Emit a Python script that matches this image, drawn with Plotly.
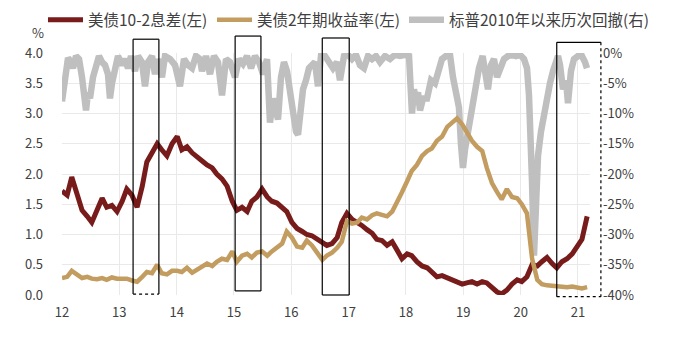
import plotly.graph_objects as go

# ---------------- data ----------------
rate_dates = [
    2012.00, 2012.09, 2012.17, 2012.26, 2012.35, 2012.44, 2012.52, 2012.61, 2012.70, 2012.78,
    2012.87, 2012.96, 2013.05, 2013.13, 2013.22, 2013.31, 2013.40, 2013.48, 2013.57, 2013.66,
    2013.74, 2013.83, 2013.92, 2014.01, 2014.09, 2014.18, 2014.27, 2014.35, 2014.44, 2014.53,
    2014.62, 2014.70, 2014.79, 2014.88, 2014.97, 2015.05, 2015.14, 2015.23, 2015.31, 2015.40,
    2015.49, 2015.58, 2015.66, 2015.75, 2015.84, 2015.92, 2016.01, 2016.10, 2016.19, 2016.27,
    2016.36, 2016.45, 2016.54, 2016.62, 2016.71, 2016.80, 2016.88, 2016.97, 2017.06, 2017.15,
    2017.23, 2017.32, 2017.41, 2017.49, 2017.58, 2017.67, 2017.76, 2017.84, 2017.93, 2018.02,
    2018.10, 2018.19, 2018.28, 2018.37, 2018.45, 2018.54, 2018.63, 2018.72, 2018.80, 2018.89,
    2018.98, 2019.06, 2019.15, 2019.24, 2019.33, 2019.41, 2019.50, 2019.59, 2019.67, 2019.76,
    2019.85, 2019.94, 2020.02, 2020.11, 2020.20, 2020.29, 2020.37, 2020.46, 2020.55, 2020.63,
    2020.72, 2020.81, 2020.90, 2020.98, 2021.07, 2021.16,
]

spread_10_2 = [
    1.72, 1.65, 1.95, 1.70, 1.40, 1.30, 1.20, 1.40, 1.60, 1.45,
    1.48, 1.38, 1.55, 1.75, 1.65, 1.45, 1.80, 2.20, 2.35, 2.50,
    2.40, 2.30, 2.50, 2.62, 2.40, 2.45, 2.35, 2.30, 2.22, 2.15,
    2.10, 2.00, 1.92, 1.80, 1.55, 1.40, 1.45, 1.38, 1.55, 1.62,
    1.75, 1.62, 1.55, 1.52, 1.45, 1.38, 1.20, 1.10, 1.05, 1.00,
    0.98, 0.92, 0.88, 0.82, 0.85, 0.95, 1.20, 1.35, 1.25, 1.20,
    1.15, 1.08, 1.02, 0.92, 0.90, 0.82, 0.88, 0.75, 0.60, 0.68,
    0.65, 0.55, 0.48, 0.45, 0.38, 0.30, 0.32, 0.28, 0.25, 0.22,
    0.18, 0.20, 0.22, 0.18, 0.22, 0.20, 0.12, 0.05, 0.02, 0.08,
    0.18, 0.25, 0.22, 0.30, 0.50, 0.48, 0.55, 0.62, 0.52, 0.45,
    0.55, 0.60, 0.68, 0.78, 0.92, 1.30,
]

yield_2y = [
    0.28, 0.30, 0.40, 0.33, 0.28, 0.30, 0.27, 0.26, 0.28, 0.25,
    0.29, 0.27, 0.26, 0.27, 0.24, 0.22, 0.30, 0.38, 0.36, 0.50,
    0.36, 0.34, 0.40, 0.40, 0.38, 0.45, 0.37, 0.42, 0.48, 0.52,
    0.48, 0.55, 0.60, 0.58, 0.72, 0.55, 0.65, 0.68, 0.62, 0.70,
    0.72, 0.65, 0.72, 0.78, 0.85, 1.05, 0.95, 0.80, 0.78, 0.90,
    0.82, 0.70, 0.58, 0.65, 0.70, 0.78, 0.88, 1.22, 1.18, 1.20,
    1.28, 1.25, 1.32, 1.35, 1.32, 1.30, 1.38, 1.55, 1.70, 1.88,
    2.05, 2.15, 2.30, 2.38, 2.42, 2.55, 2.62, 2.78, 2.85, 2.92,
    2.82, 2.70, 2.55, 2.45, 2.38, 2.10, 1.85, 1.70, 1.58, 1.75,
    1.62, 1.60, 1.50, 1.35, 0.60, 0.25, 0.18, 0.16, 0.15, 0.15,
    0.14, 0.13, 0.14, 0.12, 0.11, 0.13,
]

dd_dates = [
    2012.000, 2012.052, 2012.105, 2012.157, 2012.192, 2012.244, 2012.297, 2012.349, 2012.384, 2012.419,
    2012.454, 2012.488, 2012.541, 2012.593, 2012.645, 2012.698, 2012.750, 2012.802, 2012.837, 2012.872,
    2012.924, 2012.977, 2013.047, 2013.099, 2013.151, 2013.204, 2013.273, 2013.326, 2013.395, 2013.448,
    2013.500, 2013.570, 2013.622, 2013.674, 2013.744, 2013.797, 2013.884, 2013.971, 2014.058, 2014.128,
    2014.198, 2014.268, 2014.337, 2014.407, 2014.442, 2014.512, 2014.582, 2014.651, 2014.721, 2014.791,
    2014.861, 2014.930, 2015.018, 2015.087, 2015.157, 2015.227, 2015.297, 2015.366, 2015.436, 2015.506,
    2015.576, 2015.628, 2015.680, 2015.733, 2015.768, 2015.820, 2015.872, 2015.925, 2015.977, 2016.029,
    2016.082, 2016.117, 2016.152, 2016.204, 2016.256, 2016.308, 2016.361, 2016.413, 2016.465, 2016.518,
    2016.587, 2016.657, 2016.727, 2016.797, 2016.849, 2016.919, 2016.989, 2017.058, 2017.128, 2017.198,
    2017.268, 2017.338, 2017.407, 2017.477, 2017.547, 2017.634, 2017.721, 2017.808, 2017.896, 2017.983,
    2018.053, 2018.105, 2018.140, 2018.175, 2018.210, 2018.245, 2018.297, 2018.367, 2018.437, 2018.506,
    2018.576, 2018.628, 2018.698, 2018.768, 2018.820, 2018.872, 2018.924, 2018.959, 2018.994, 2019.029,
    2019.064, 2019.116, 2019.168, 2019.221, 2019.273, 2019.337, 2019.378, 2019.430, 2019.483, 2019.535,
    2019.588, 2019.640, 2019.710, 2019.780, 2019.849, 2019.919, 2019.989, 2020.059, 2020.111, 2020.146,
    2020.181, 2020.198, 2020.233, 2020.268, 2020.303, 2020.355, 2020.407, 2020.460, 2020.512, 2020.564,
    2020.617, 2020.652, 2020.687, 2020.739, 2020.791, 2020.826, 2020.878, 2020.930, 2021.000, 2021.070,
    2021.122, 2021.157,
]

sp500_drawdown = [
    -8.0, -5.0, -0.8, -1.5, -2.5, -0.5, -1.0, -4.0, -8.0, -9.5,
    -6.5, -7.5, -4.0, -2.0, -0.5, -1.5, -2.0, -3.5, -7.5, -5.0,
    -2.5, -0.5, -2.0, -1.0, -2.5, -0.5, -3.0, -0.5, -1.5, -5.5,
    -1.5, -0.5, -3.5, -1.0, -4.0, -0.5, -1.0, -2.0, -5.5, -1.0,
    -2.0, -2.5, -0.5, -1.0, -3.0, -0.5, -3.5, -0.5, -1.5, -7.0,
    -1.0, -1.5, -4.0, -1.0, -1.8, -0.5, -2.5, -0.5, -1.5, -3.5,
    -1.0, -11.5, -7.5, -10.0, -11.0, -4.0, -1.5, -3.0, -7.0, -9.0,
    -13.0, -13.5, -10.0, -6.0, -4.5, -2.5, -2.0, -1.5, -5.5, -0.5,
    -0.5, -1.5, -2.5, -1.5, -4.5, -0.5, -0.3, -1.0, -0.3, -2.0,
    -2.5, -0.5, -1.0, -0.5, -1.5, -0.5, -1.0, -0.3, -0.5, -0.3,
    -0.5, -10.0, -6.0, -8.0, -6.5, -9.5, -7.5, -7.5, -4.5, -5.0,
    -2.0, -1.0, -0.5, -0.3, -4.0, -6.0, -9.0, -15.0, -19.0, -16.0,
    -14.0, -10.0, -7.5, -4.5, -2.5, -0.5, -3.0, -6.0, -2.0, -1.0,
    -4.0, -2.5, -1.0, -0.5, -0.3, -0.5, -0.3, -1.0, -2.5, -7.0,
    -15.0, -21.0, -33.5, -26.0, -17.0, -13.0, -10.0, -7.0, -5.0, -3.0,
    -1.0, -0.5, -2.0, -6.0, -4.5, -8.3, -3.0, -1.0, -0.5, -0.5,
    -1.5, -2.5,
]

x_tick_years = [2012, 2013, 2014, 2015, 2016, 2017, 2018, 2019, 2020, 2021]
x_tick_labels = ["12", "13", "14", "15", "16", "17", "18", "19", "20", "21"]
left_ticks = [0.0, 0.5, 1.0, 1.5, 2.0, 2.5, 3.0, 3.5, 4.0]
left_tick_labels = ["0.0", "0.5", "1.0", "1.5", "2.0", "2.5", "3.0", "3.5", "4.0"]
right_ticks = [0, -5, -10, -15, -20, -25, -30, -35, -40]
right_tick_labels = ["0%", "-5%", "-10%", "-15%", "-20%", "-25%", "-30%", "-35%", "-40%"]

names = ["美债10-2息差(左)", "美债2年期收益率(左)", "标普2010年以来历次回撤(右)"]

# highlighted periods (start year, end year) drawn as black boxes
box_periods = [(2013.24, 2013.69), (2015.02, 2015.47), (2016.54, 2017.01), (2020.63, 2021.40)]

X_RANGE = [2012.0, 2021.21]

# ---------------- figure ----------------
FONT = "Noto Sans CJK SC, Microsoft YaHei, sans-serif"
TXT = "#404040"
GRID = "#e9e9e9"

fig = go.Figure()

# drawdown on primary axis so it renders underneath the rate lines
fig.add_trace(go.Scatter(
    x=dd_dates, y=sp500_drawdown, mode="lines", name=names[2],
    line=dict(color="#BFBFBF", width=6.5), yaxis="y", legend="legend3",
))
fig.add_trace(go.Scatter(
    x=rate_dates, y=spread_10_2, mode="lines", name=names[0],
    line=dict(color="#771B1B", width=5), yaxis="y2", legend="legend",
))
fig.add_trace(go.Scatter(
    x=rate_dates, y=yield_2y, mode="lines", name=names[1],
    line=dict(color="#C39C60", width=4.5), yaxis="y2", legend="legend2",
))

def to_paper(yr):
    return (yr - X_RANGE[0]) / (X_RANGE[1] - X_RANGE[0])

box_v = [(1.057, 0.004), (1.070, 0.017), (1.062, 0.0), (1.044, -0.007)]
box_dash = [
    ("solid", "solid", "dot", "solid"),
    ("solid", "solid", "solid", "solid"),
    ("solid", "solid", "solid", "solid"),
    ("solid", "dot", "dot", "solid"),
]
shapes = []
for (a, b), (top, bot), (dt, dr, dbm, dl) in zip(box_periods, box_v, box_dash):
    x0, x1 = to_paper(a), to_paper(b)
    for (xa, ya, xb, yb, d) in [
        (x0, top, x1, top, dt),
        (x1, top, x1, bot, dr),
        (x0, bot, x1, bot, dbm),
        (x0, top, x0, bot, dl),
    ]:
        shapes.append(dict(type="line", xref="paper", yref="paper",
                           x0=xa, y0=ya, x1=xb, y1=yb,
                           line=dict(color="black", width=1.2, dash=d)))

def legend_at(xp):
    return dict(orientation="h", x=xp, xanchor="left", y=1.136, yanchor="middle",
                font=dict(size=15.5, color=TXT, family=FONT), bgcolor="rgba(0,0,0,0)",
                itemwidth=35)

fig.update_layout(
    width=678, height=341,
    margin=dict(l=62, r=88, t=53, b=46, autoexpand=False),
    paper_bgcolor="white", plot_bgcolor="white",
    font=dict(family=FONT, size=13, color=TXT),
    showlegend=True,
    legend=legend_at(-0.036),
    legend2=legend_at(0.2841),
    legend3=legend_at(0.6477),
    xaxis=dict(range=X_RANGE, tickmode="array", tickvals=x_tick_years, ticktext=x_tick_labels,
               showgrid=True, gridcolor=GRID, gridwidth=1, zeroline=False,
               showline=False, ticks="", ticklabelstandoff=8,
               tickfont=dict(size=13, color=TXT)),
    yaxis=dict(range=[-40, 0], side="right", tickmode="array", tickvals=right_ticks,
               ticktext=right_tick_labels, showgrid=False, zeroline=False, showline=False,
               ticks="", ticklabelstandoff=12, tickfont=dict(size=13, color=TXT)),
    yaxis2=dict(range=[0, 4], side="left", overlaying="y", tickmode="array",
                tickvals=left_ticks, ticktext=left_tick_labels, showgrid=True,
                gridcolor=GRID, gridwidth=1, zeroline=False, showline=False, ticks="",
                ticklabelstandoff=18, tickfont=dict(size=13, color=TXT)),
    shapes=shapes,
    annotations=[dict(text="%", xref="paper", yref="paper", x=-0.045, y=1.083,
                      showarrow=False, font=dict(size=13, color=TXT),
                      xanchor="center", yanchor="middle")],
)

fig.write_html("out.html")
